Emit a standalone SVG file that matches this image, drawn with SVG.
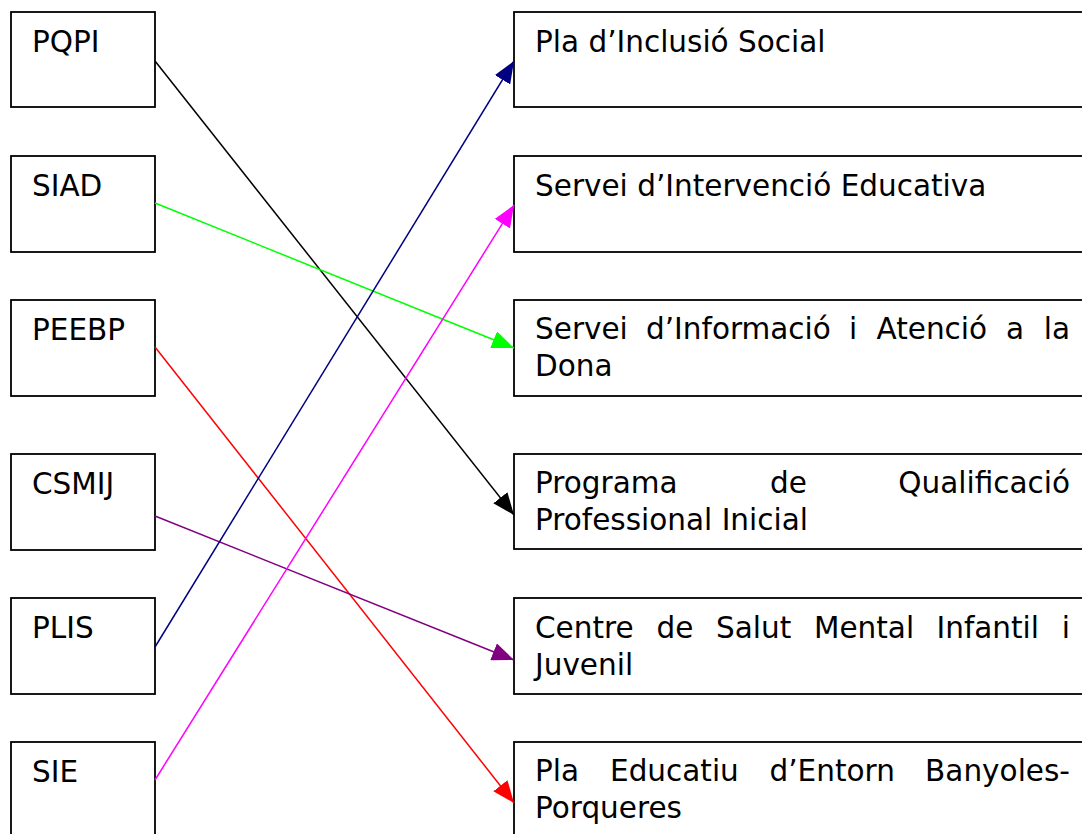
<svg xmlns="http://www.w3.org/2000/svg" width="1082" height="834" viewBox="0 0 1082 834">
<style>
.box{fill:#fff;stroke:#000;stroke-width:1.8}
.t{font-family:"DejaVu Sans",Verdana,sans-serif;font-size:29.5px;fill:#000}
.c{fill:none;stroke-width:1.5}
</style>
<defs>
<marker id="aBlack" viewBox="0 0 22 18" refX="22" refY="9" markerWidth="22" markerHeight="18" markerUnits="userSpaceOnUse" orient="auto"><path d="M0,0 L22,9 L0,18 z" fill="#000"/></marker>
<marker id="aGreen" viewBox="0 0 22 18" refX="22" refY="9" markerWidth="22" markerHeight="18" markerUnits="userSpaceOnUse" orient="auto"><path d="M0,0 L22,9 L0,18 z" fill="#00ff00"/></marker>
<marker id="aRed" viewBox="0 0 22 18" refX="22" refY="9" markerWidth="22" markerHeight="18" markerUnits="userSpaceOnUse" orient="auto"><path d="M0,0 L22,9 L0,18 z" fill="#ff0000"/></marker>
<marker id="aPurple" viewBox="0 0 22 18" refX="22" refY="9" markerWidth="22" markerHeight="18" markerUnits="userSpaceOnUse" orient="auto"><path d="M0,0 L22,9 L0,18 z" fill="#800080"/></marker>
<marker id="aNavy" viewBox="0 0 22 18" refX="22" refY="9" markerWidth="22" markerHeight="18" markerUnits="userSpaceOnUse" orient="auto"><path d="M0,0 L22,9 L0,18 z" fill="#000080"/></marker>
<marker id="aMagenta" viewBox="0 0 22 18" refX="22" refY="9" markerWidth="22" markerHeight="18" markerUnits="userSpaceOnUse" orient="auto"><path d="M0,0 L22,9 L0,18 z" fill="#ff00ff"/></marker>
</defs>
<rect width="1082" height="834" fill="#fff"/>

<g id="PQPI"><rect class="box" x="11" y="12" width="144" height="95"/><text class="t" x="32" y="52">PQPI</text></g>
<g id="SIAD"><rect class="box" x="11" y="156" width="144" height="96"/><text class="t" x="32" y="196">SIAD</text></g>
<g id="PEEBP"><rect class="box" x="11" y="300" width="144" height="96"/><text class="t" x="32" y="340">PEEBP</text></g>
<g id="CSMIJ"><rect class="box" x="11" y="454" width="144" height="96"/><text class="t" x="32" y="494">CSMIJ</text></g>
<g id="PLIS"><rect class="box" x="11" y="598" width="144" height="96"/><text class="t" x="32" y="638">PLIS</text></g>
<g id="SIE"><rect class="box" x="11" y="742" width="144" height="120"/><text class="t" x="32" y="782">SIE</text></g>

<g id="PlaInclusio"><rect class="box" x="514" y="12" width="600" height="95"/><text class="t" x="535" y="52">Pla d’Inclusió Social</text></g>
<g id="ServeiIntervencio"><rect class="box" x="514" y="156" width="600" height="96"/><text class="t" x="535" y="196">Servei d’Intervenció Educativa</text></g>
<g id="ServeiInformacio"><rect class="box" x="514" y="300" width="600" height="96"/>
<text class="t" y="339"><tspan x="535">Servei</tspan><tspan x="646">d’Informació</tspan><tspan x="849">i</tspan><tspan x="876.5">Atenció</tspan><tspan x="1006">a</tspan><tspan x="1070" text-anchor="end">la</tspan></text>
<text class="t" x="535" y="376">Dona</text></g>
<g id="ProgramaQualificacio"><rect class="box" x="514" y="454" width="600" height="95"/>
<text class="t" y="493"><tspan x="535">Programa</tspan><tspan x="770">de</tspan><tspan x="1070" text-anchor="end">Qualificació</tspan></text>
<text class="t" x="535" y="530">Professional Inicial</text></g>
<g id="CentreSalutMental"><rect class="box" x="514" y="598" width="600" height="96"/>
<text class="t" y="638"><tspan x="535">Centre</tspan><tspan x="656.5">de</tspan><tspan x="716">Salut</tspan><tspan x="814">Mental</tspan><tspan x="936.5">Infantil</tspan><tspan x="1070" text-anchor="end">i</tspan></text>
<text class="t" x="535" y="675">Juvenil</text></g>
<g id="PlaEducatiu"><rect class="box" x="514" y="742" width="600" height="120"/>
<text class="t" y="781"><tspan x="535">Pla</tspan><tspan x="610">Educatiu</tspan><tspan x="769.5">d’Entorn</tspan><tspan x="1070" text-anchor="end">Banyoles-</tspan></text>
<text class="t" x="535" y="818">Porqueres</text></g>

<g id="connectors">
<line class="c" x1="155" y1="61" x2="514" y2="515" stroke="#000" marker-end="url(#aBlack)"/>
<line class="c" x1="155" y1="203" x2="514" y2="348" stroke="#00ff00" marker-end="url(#aGreen)"/>
<line class="c" x1="155" y1="347" x2="514" y2="803" stroke="#ff0000" marker-end="url(#aRed)"/>
<line class="c" x1="155" y1="516" x2="514" y2="660" stroke="#800080" marker-end="url(#aPurple)"/>
<line class="c" x1="155" y1="647" x2="514" y2="61" stroke="#000080" marker-end="url(#aNavy)"/>
<line class="c" x1="155" y1="780" x2="514" y2="205" stroke="#ff00ff" marker-end="url(#aMagenta)"/>
</g>
</svg>
